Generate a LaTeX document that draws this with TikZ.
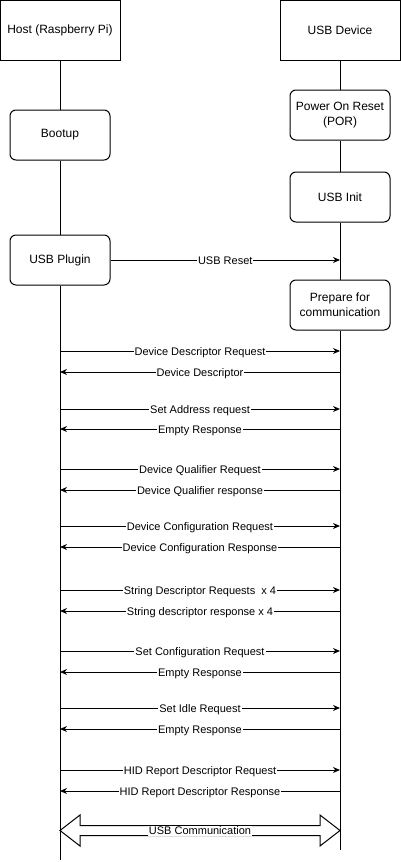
\documentclass[tikz,border=0pt]{standalone}
\usepackage{fontspec}
\setmainfont{Liberation Sans}
\usetikzlibrary{arrows.meta,positioning}

\begin{document}
\begin{tikzpicture}[x=1pt,y=-1pt,line width=1pt,
      actor/.style={draw,fill=white,minimum width=120pt,minimum height=60pt,
      font=\fontsize{12}{15}\selectfont,inner sep=0pt},
      stepbox/.style={draw,fill=white,rounded corners=6pt,minimum width=100pt,
      minimum height=50pt,align=center,font=\fontsize{12}{15}\selectfont,inner sep=0pt},
      msg/.style={-{Stealth[length=7pt,width=6pt]}},
      lbl/.style={fill=white,inner sep=1pt,text height=8pt,text depth=0pt,
      font=\fontsize{11}{13}\selectfont}]
      \useasboundingbox (0,0) rectangle (401,862);
      % lifeline heads
      \node[actor] (host) at (60,30) {Host (Raspberry Pi)};
      \node[actor,right=159pt of host] (dev) {USB Device};
      % host side
      \node[stepbox,below=49pt of host] (boot) {Bootup};
      \node[stepbox,below=74pt of boot] (plug) {USB Plugin};
      \coordinate (hostend) at (60,860);
      % device side
      \node[stepbox,below=29pt of dev] (por) {Power On Reset\\(POR)};
      \node[stepbox,below=31pt of por] (init) {USB Init};
      \node[stepbox,below=57pt of init] (prep) {Prepare for\\communication};
      \coordinate (devend) at (340,850);
      \draw (host) -- (boot) -- (plug) -- (hostend);
      \draw (dev) -- (por) -- (init) -- (prep) -- (devend);
      % reset
      \coordinate (reset) at (plug.east -| dev);
      \draw[msg] (plug) -- node[lbl] {USB Reset} (reset);
      % enumeration
      \foreach \i/\y/\a/\b/\txt in {
          1/351/h/d/Device Descriptor Request,
          2/372/d/h/Device Descriptor,
          3/409/h/d/Set Address request,
          4/429/d/h/Empty Response,
          5/469/h/d/Device Qualifier Request,
          6/490/d/h/Device Qualifier response,
          7/526/h/d/Device Configuration Request,
          8/547/d/h/Device Configuration Response,
          9/590/h/d/String Descriptor Requests\ \ x 4,
          10/611/d/h/String descriptor response x 4,
          11/651/h/d/Set Configuration Request,
          12/672/d/h/Empty Response,
          13/708/h/d/Set Idle Request,
          14/729/d/h/Empty Response,
          15/770/h/d/HID Report Descriptor Request,
          16/791/d/h/HID Report Descriptor Response}{
        \coordinate (h\i) at (60,\y);
        \coordinate (d\i) at (340,\y);
        \draw[msg] (\a\i) -- node[lbl] {\txt} (\b\i);
      }
      % usb communication
      \draw[fill=white,line join=miter] (60,830.5) -- (80,815) -- (80,825.5) -- (320,825.5)
        -- (320,815) -- (340,830.5) -- (320,846) -- (320,835.5) -- (80,835.5)
        -- (80,846) -- cycle;
      \node[lbl] (comm) at (200,830.5) {USB Communication};
    \end{tikzpicture}
\end{document}
